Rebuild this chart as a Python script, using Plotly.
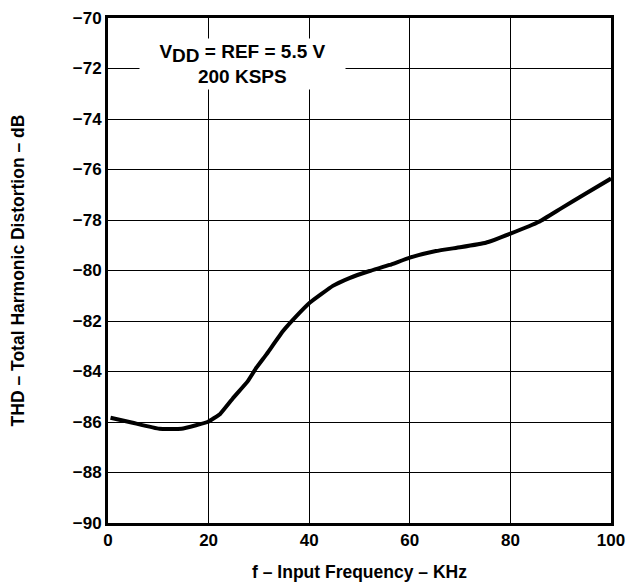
import plotly.graph_objects as go

freq_khz = [0.5, 4.9, 10.2, 14.6, 17.5, 19.9, 22.3, 24.8, 27.8, 29.5, 31.5, 34.8, 37.5, 40.1, 44.7, 48, 52, 56, 60, 65.2, 70, 75.1, 80, 85.7, 90, 95, 100]
thd_db = [-85.83, -86.03, -86.27, -86.27, -86.13, -85.99, -85.68, -85.07, -84.38, -83.85, -83.32, -82.40, -81.80, -81.28, -80.61, -80.30, -80.02, -79.78, -79.49, -79.23, -79.08, -78.90, -78.54, -78.07, -77.55, -76.95, -76.36]

x_ticks = [0, 20, 40, 60, 80, 100]
y_ticks = [-90, -88, -86, -84, -82, -80, -78, -76, -74, -72, -70]
y_tick_labels = ["\u221290", "\u221288", "\u221286", "\u221284", "\u221282", "\u221280",
                 "\u221278", "\u221276", "\u221274", "\u221272", "\u221270"]

font_fam = "Liberation Sans, Arial, sans-serif"

fig = go.Figure()
fig.add_trace(go.Scatter(x=freq_khz, y=thd_db, mode="lines",
                         line=dict(color="black", width=4, shape="spline", smoothing=0.3),
                         hoverinfo="skip", showlegend=False))

fig.add_annotation(x=26.7, y=-71.82, xref="x", yref="y",
                   text="<b>V<sub><span style='font-size:19px'>DD</span></sub> = REF = 5.5 V<br>200 KSPS</b>",
                   showarrow=False, bgcolor="white", width=203, height=48,
                   font=dict(family=font_fam, size=19, color="black"),
                   align="center")

fig.update_layout(
    width=627, height=577,
    margin=dict(l=100, r=24, t=10, b=62),
    paper_bgcolor="white", plot_bgcolor="white",
    font=dict(family=font_fam, color="black"),
)
fig.update_xaxes(range=[0, 100], tickvals=x_ticks, ticktext=[f"<b>{v}</b>" for v in x_ticks],
                 showgrid=True, gridcolor="black", gridwidth=1, automargin=False,
                 showline=True, linecolor="black", linewidth=3, mirror=True,
                 ticks="", zeroline=False, tickfont=dict(size=17, family=font_fam),
                 ticklabeloverflow="allow",
                 title=dict(text="<b>f \u2013 Input Frequency \u2013 KHz</b>", font=dict(size=17.5, family=font_fam), standoff=17))
fig.update_yaxes(range=[-90, -70], tickvals=y_ticks, ticktext=[f"<b>{t}</b>" for t in y_tick_labels],
                 showgrid=True, gridcolor="black", gridwidth=1, automargin=False,
                 showline=True, linecolor="black", linewidth=3, mirror=True,
                 ticks="", zeroline=False, tickfont=dict(size=17, family=font_fam),
                 ticklabeloverflow="allow",
                 title=dict(text="<b>THD \u2013 Total Harmonic Distortion \u2013 dB</b>", font=dict(size=17.5, family=font_fam), standoff=45))

fig.write_html("out.html")
